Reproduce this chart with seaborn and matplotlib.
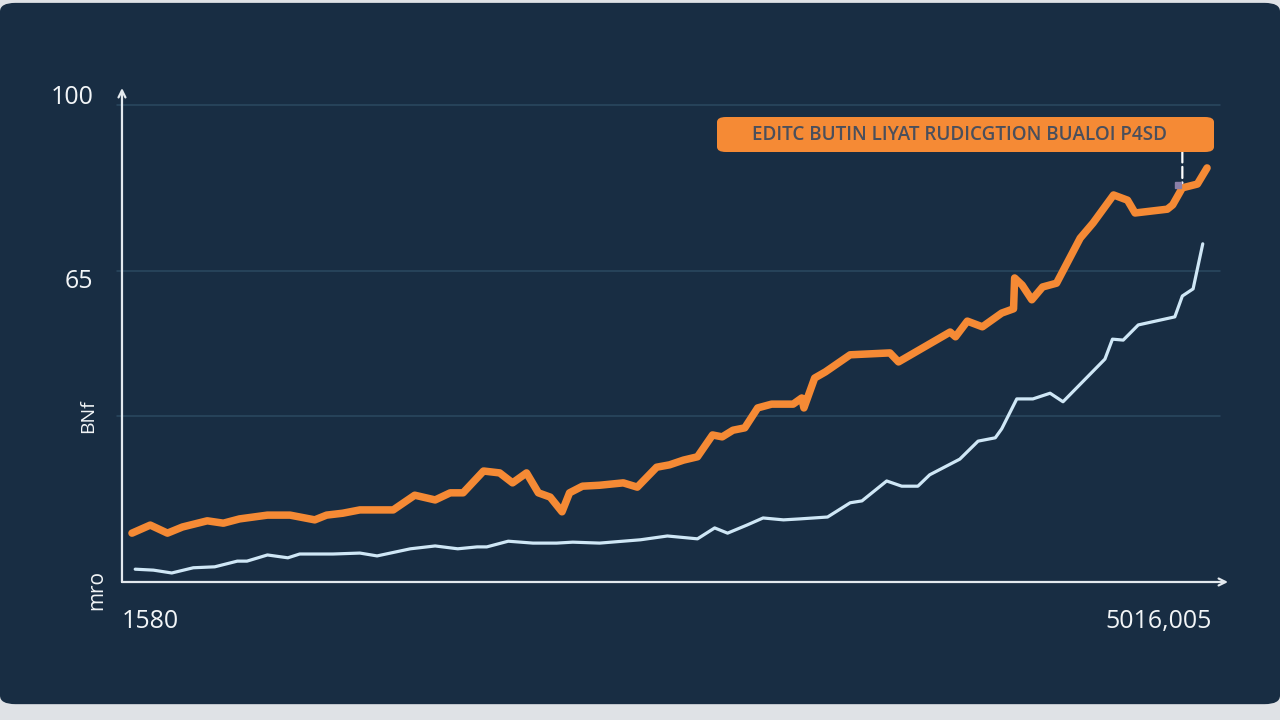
import numpy as np
import pandas as pd
import seaborn as sns
import matplotlib.pyplot as plt
from matplotlib.patches import FancyBboxPatch

# data
orange_x = [0, 1.7, 3.3, 4.7, 7.0, 8.5, 10.0, 12.6, 14.7, 17.0,
            18.1, 19.6, 21.2, 24.3, 26.3, 28.2, 29.6, 30.8, 32.7, 34.2,
            35.4, 36.7, 37.8, 38.9, 40.0, 40.7, 41.9, 43.5, 45.7, 47.0,
            48.8, 50.0, 51.3, 52.6, 54.0, 54.9, 55.9, 57.0, 58.2, 59.5,
            61.5, 62.3, 62.5, 63.5, 64.5, 66.8, 70.5, 71.3, 76.1, 76.6,
            77.7, 79.1, 80.9, 82.0, 82.1, 82.8, 83.7, 84.7, 86.0, 88.2,
            89.4, 91.3, 92.6, 93.3, 96.3, 96.8, 97.7, 99.1, 100]
orange_y = [9.7, 11.4, 9.7, 11.0, 12.3, 11.8, 12.7, 13.5, 13.5, 12.5,
            13.5, 13.9, 14.6, 14.6, 17.7, 16.7, 18.2, 18.2, 22.8, 22.4,
            20.3, 22.4, 18.2, 17.3, 14.2, 18.2, 19.6, 19.8, 20.3, 19.4,
            23.6, 24.1, 25.1, 25.8, 30.4, 30.0, 31.4, 31.9, 36.1, 36.9,
            36.9, 38.2, 36.1, 42.4, 43.7, 47.3, 47.7, 45.8, 52.1, 51.1,
            54.4, 53.2, 56.1, 57.0, 63.5, 62.0, 58.9, 61.6, 62.4, 71.9,
            75.1, 81.0, 79.9, 77.2, 78.0, 78.9, 82.5, 83.3, 86.7]

blue_x = [0.3, 2.0, 3.7, 5.7, 7.7, 9.8, 10.7, 12.6, 14.5, 15.6,
          18.7, 21.2, 22.8, 25.9, 28.2, 30.3, 32.1, 33.0, 35.0, 37.3,
          39.5, 41.0, 43.5, 47.3, 49.8, 52.6, 54.2, 55.4, 57.2, 58.7,
          60.6, 62.1, 64.7, 66.8, 67.9, 70.2, 71.6, 73.1, 74.2, 77.0,
          78.7, 80.3, 80.9, 82.3, 83.8, 85.4, 86.6, 90.5, 91.2, 92.2,
          93.6, 97.0, 97.7, 98.7, 99.6]
blue_y = [2.1, 1.9, 1.3, 2.4, 2.6, 3.8, 3.8, 5.1, 4.5, 5.3,
          5.3, 5.5, 4.9, 6.4, 7.0, 6.4, 6.8, 6.8, 8.0, 7.6,
          7.6, 7.8, 7.6, 8.3, 9.1, 8.5, 10.8, 9.7, 11.4, 12.9,
          12.5, 12.7, 13.1, 16.1, 16.5, 20.7, 19.6, 19.6, 22.0, 25.3,
          29.1, 29.8, 31.7, 38.0, 38.0, 39.2, 37.4, 46.4, 50.6, 50.4,
          53.6, 55.3, 59.7, 61.2, 70.7]

grid_levels = [34.3, 65, 100]
y_labels = {100: "100", 65: "65"}
x_labels = ["1580", "5016,005"]
rot_labels = ["BNf", "mro"]
callout = "EDITC BUTIN LIYAT RUDICGTION BUALOI P4SD"

BG = "#182d43"
ORANGE = "#f58a35"
BLUE = "#cfe7f6"
AXIS = "#e3e9ee"
GRID = "#2b4960"

sns.set_style("dark")
plt.rcParams['font.family'] = ['Open Sans', 'DejaVu Sans']

fig = plt.figure(figsize=(12.8, 7.2), dpi=100)
fig.patch.set_facecolor("#dfe2e6")

# dark rounded card behind everything
card = FancyBboxPatch((0.0, 0.022), 1.0, 0.974,
                      boxstyle="round,pad=0,rounding_size=0.012",
                      transform=fig.transFigure, facecolor=BG,
                      edgecolor="none", zorder=-5)
fig.patches.append(card)

ax = fig.add_axes([0.0953, 0.19167, 0.8641, 0.6861])
ax.set_zorder(1)
ax.set_facecolor("none")
ax.set_xlim(-0.93, 101.95)
ax.set_ylim(-0.6, 103.55)
for s in ax.spines.values():
    s.set_visible(False)
ax.set_xticks([])
ax.set_yticks([])
ax.grid(False)

for lvl in grid_levels:
    ax.axhline(lvl, xmin=-0.0045, xmax=0.993, color=GRID, lw=1.1,
               zorder=1, clip_on=False)

orange = pd.DataFrame({"x": orange_x, "y": orange_y})
blue = pd.DataFrame({"x": blue_x, "y": blue_y})

sns.lineplot(data=blue, x="x", y="y", ax=ax, color=BLUE, linewidth=2.3,
             estimator=None, zorder=3)
sns.lineplot(data=orange, x="x", y="y", ax=ax, color=ORANGE, linewidth=5.4,
             estimator=None, zorder=4, solid_joinstyle="round",
             solid_capstyle="round")
ax.set_xlabel("")
ax.set_ylabel("")

# axis arrows
arrow = dict(arrowstyle="->,head_length=0.5,head_width=0.25", color=AXIS,
             lw=1.6, shrinkA=0, shrinkB=0)
ax.annotate("", xy=(0, 1), xytext=(0, 0), xycoords="axes fraction",
            textcoords="axes fraction", arrowprops=arrow)
ax.annotate("", xy=(1, 0), xytext=(0, 0), xycoords="axes fraction",
            textcoords="axes fraction", arrowprops=arrow)

ytr = ax.get_yaxis_transform()
ax.text(-0.026, 101.6, y_labels[100], transform=ytr, ha="right", va="center",
        color="#f2f5f7", fontsize=18)
ax.text(-0.026, 62.7, y_labels[65], transform=ytr, ha="right", va="center",
        color="#f2f5f7", fontsize=18)
ax.text(-0.031, 34.4, rot_labels[0], transform=ytr, ha="center", va="center",
        rotation=90, color="#f2f5f7", fontsize=14)
ax.text(-0.023, -2.3, rot_labels[1], transform=ytr, ha="center", va="center",
        rotation=90, color="#f2f5f7", fontsize=15, clip_on=False)
ax.text(0.0, -0.079, x_labels[0], transform=ax.transAxes, ha="left",
        va="center", color="#f2f5f7", fontsize=18)
ax.text(0.9855, -0.079, x_labels[1], transform=ax.transAxes, ha="right",
        va="center", color="#f2f5f7", fontsize=18)

# callout box
box = FancyBboxPatch((717 / 1280, 1 - 152 / 720), 497 / 1280, 35 / 720,
                     boxstyle="round,pad=0,rounding_size=0.007",
                     transform=fig.transFigure, facecolor=ORANGE,
                     edgecolor="none", zorder=5)
fig.patches.append(box)
fig.text(960 / 1280, 1 - 135 / 720, callout, ha="center", va="center",
         color="#4a4f5c", fontsize=13.6, fontweight="semibold", zorder=6)

i = 66
ax.annotate("", xy=(orange_x[i], orange_y[i] + 1.0),
            xytext=(orange_x[i], 90.2),
            arrowprops=dict(arrowstyle="-", color="white", lw=1.6,
                            linestyle=(0, (5, 2)), shrinkA=0, shrinkB=0),
            zorder=6)
ax.plot([orange_x[i] - 0.4], [orange_y[i] + 0.6], marker="s", ms=4,
        color="#8a7fa8", zorder=6)

fig.savefig("out.png", dpi=100, facecolor=fig.get_facecolor())
